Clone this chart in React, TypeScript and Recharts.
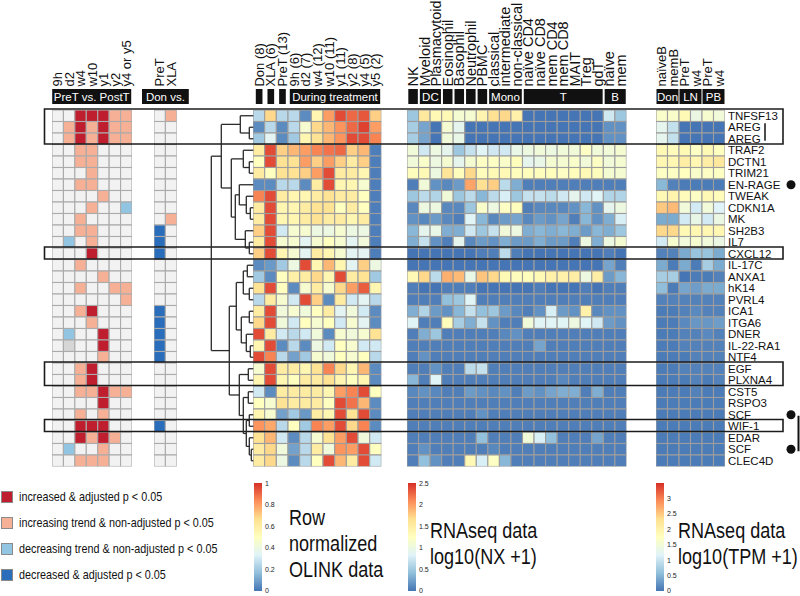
import React from "react";
import {
  ScatterChart,
  Scatter,
  XAxis,
  YAxis,
  ReferenceArea,
  ReferenceLine,
  ReferenceDot,
} from "recharts";

const GENES = [
  "TNFSF13", "AREG", "AREG", "TRAF2", "DCTN1", "TRIM21", "EN-RAGE", "TWEAK",
  "CDKN1A", "MK", "SH2B3", "IL7", "CXCL12", "IL-17C", "ANXA1", "hK14", "PVRL4",
  "ICA1", "ITGA6", "DNER", "IL-22-RA1", "NTF4", "EGF", "PLXNA4", "CST5", "RSPO3",
  "SCF", "WIF-1", "EDAR", "SCF", "CLEC4D",
];

// 0 none, 1 increased & adjusted, 2 increasing trend, 3 decreasing trend, 4 decreased & adjusted, 5 missing
const TREND_COLS = ["9h", "d2", "w4", "w10", "y1", "y2", "y4 or y5"];
const TREND = [
  [0, 0, 1, 1, 1, 2, 2], [0, 2, 1, 2, 1, 2, 2], [0, 2, 1, 2, 1, 2, 2],
  [0, 0, 2, 2, 0, 0, 0], [0, 0, 2, 2, 0, 0, 0], [0, 0, 0, 2, 0, 0, 0],
  [0, 0, 2, 2, 0, 0, 0], [0, 0, 0, 0, 2, 0, 0], [0, 0, 0, 2, 0, 0, 3],
  [0, 0, 2, 0, 0, 0, 0], [0, 0, 2, 2, 0, 0, 0], [0, 3, 0, 2, 0, 0, 0],
  [0, 0, 0, 1, 0, 0, 0], [0, 0, 2, 0, 0, 0, 0], [0, 0, 0, 0, 2, 0, 0],
  [0, 0, 2, 0, 0, 2, 2], [0, 0, 0, 0, 0, 0, 2], [0, 0, 2, 1, 0, 0, 0],
  [0, 0, 0, 2, 0, 0, 0], [0, 3, 0, 0, 1, 0, 0], [0, 5, 0, 0, 1, 0, 0],
  [0, 0, 0, 0, 2, 0, 0], [0, 0, 2, 1, 0, 0, 0], [0, 0, 2, 1, 0, 0, 0],
  [0, 0, 2, 2, 1, 2, 2], [0, 0, 0, 0, 1, 0, 0], [0, 0, 2, 0, 2, 0, 0],
  [0, 0, 1, 1, 1, 0, 0], [0, 0, 1, 2, 1, 2, 0], [0, 3, 0, 0, 2, 0, 0],
  [0, 0, 2, 2, 2, 0, 0],
];

const DON_COLS = ["PreT", "XLA"];
const DON = [
  [0, 2], [0, 0], [0, 0], [0, 0], [0, 0], [0, 0], [0, 0], [0, 0], [0, 0],
  [0, 2], [4, 0], [4, 0], [4, 0], [0, 0], [0, 0], [0, 0], [0, 0], [4, 0],
  [4, 0], [4, 0], [4, 0], [4, 0], [0, 0], [0, 0], [0, 0], [0, 0], [0, 0],
  [4, 0], [0, 0], [0, 0], [0, 0],
];

const OLINK_COLS = [
  "Don (8)", "XLA (6)", "PreT (13)", "9h (6)", "d2 (7)", "w4 (12)",
  "w10 (11)", "y1 (11)", "y2 (8)", "y4 (5)", "y5 (2)",
];
const OLINK = [
  [0.25, 0.68, 0.25, 0.25, 0.05, 0.55, 0.8, 0.95, 0.9, 0.93, 0.7],
  [0.05, 0.25, 0.05, 0.25, 0.45, 0.68, 0.75, 0.82, 0.9, 0.97, 0.8],
  [0.2, 0.35, 0.05, 0.2, 0.55, 0.65, 0.75, 0.82, 0.95, 0.95, 0.85],
  [0.6, 0.95, 0.7, 0.75, 0.8, 0.85, 0.88, 0.9, 0.7, 0.75, 0.02],
  [0.5, 0.95, 0.65, 0.65, 0.8, 0.7, 0.8, 0.7, 0.6, 0.7, 0.02],
  [0.6, 0.5, 0.65, 0.65, 0.7, 0.8, 0.95, 0.6, 0.6, 0.55, 0.02],
  [0.05, 0.05, 0.25, 0.25, 0.05, 0.6, 0.95, 0.55, 0.55, 0.45, 0.02],
  [0.85, 0.95, 0.6, 0.55, 0.55, 0.6, 0.65, 0.6, 0.6, 0.5, 0.02],
  [0.6, 0.95, 0.55, 0.55, 0.6, 0.65, 0.65, 0.5, 0.6, 0.5, 0.02],
  [0.6, 0.95, 0.55, 0.55, 0.6, 0.65, 0.6, 0.6, 0.55, 0.6, 0.02],
  [0.7, 0.95, 0.3, 0.45, 0.45, 0.4, 0.4, 0.45, 0.4, 0.4, 0.02],
  [0.6, 0.95, 0.45, 0.45, 0.35, 0.45, 0.5, 0.45, 0.35, 0.42, 0.02],
  [0.7, 0.95, 0.55, 0.45, 0.35, 0.6, 0.55, 0.45, 0.35, 0.35, 0.02],
  [0.05, 0.08, 0.2, 0.4, 0.95, 0.55, 0.75, 0.55, 0.35, 0.7, 0.4],
  [0.2, 0.05, 0.5, 0.58, 0.6, 0.68, 0.55, 0.95, 0.6, 0.65, 0.2],
  [0.65, 0.95, 0.5, 0.05, 0.45, 0.6, 0.45, 0.68, 0.8, 0.92, 0.55],
  [0.25, 0.6, 0.45, 0.3, 0.95, 0.7, 0.05, 0.6, 0.3, 0.35, 0.25],
  [0.6, 0.95, 0.42, 0.45, 0.42, 0.5, 0.6, 0.35, 0.42, 0.3, 0.05],
  [0.68, 0.95, 0.42, 0.3, 0.5, 0.45, 0.5, 0.3, 0.45, 0.35, 0.05],
  [0.95, 0.6, 0.3, 0.25, 0.3, 0.42, 0.05, 0.45, 0.42, 0.45, 0.65],
  [0.55, 0.95, 0.05, 0.25, 0.05, 0.4, 0.3, 0.5, 0.45, 0.3, 0.3],
  [0.95, 0.85, 0.25, 0.1, 0.2, 0.45, 0.42, 0.5, 0.45, 0.5, 0.25],
  [0.45, 0.95, 0.6, 0.6, 0.55, 0.65, 0.85, 0.68, 0.55, 0.75, 0.05],
  [0.55, 0.95, 0.55, 0.5, 0.6, 0.6, 0.65, 0.55, 0.5, 0.55, 0.05],
  [0.3, 0.05, 0.6, 0.6, 0.6, 0.6, 0.55, 0.8, 0.85, 0.95, 0.5],
  [0.5, 0.45, 0.65, 0.6, 0.6, 0.6, 0.5, 0.95, 0.88, 0.75, 0.05],
  [0.55, 0.45, 0.1, 0.2, 0.08, 0.6, 0.55, 0.95, 0.65, 0.95, 0.05],
  [0.82, 0.78, 0.25, 0.5, 0.2, 0.85, 0.8, 0.95, 0.68, 0.85, 0.05],
  [0.65, 0.75, 0.3, 0.05, 0.25, 0.45, 0.65, 0.8, 0.95, 0.42, 0.3],
  [0.6, 0.68, 0.42, 0.1, 0.25, 0.6, 0.42, 0.82, 0.8, 0.95, 0.5],
  [0.6, 0.68, 0.4, 0.05, 0.25, 0.5, 0.95, 0.75, 0.6, 0.95, 0.3],
];

const NX_COLS = [
  "NK", "Myeloid", "Plasmacytoid", "Eosinophil", "Basophil", "Neutrophil",
  "PBMC", "classical", "intermediate", "non-classical", "naïve CD4",
  "naïve CD8", "mem CD4", "mem CD8", "MAIT", "Treg", "gdT", "naïve", "mem",
];
const NX = [
  [0.6, 1.6, 1.4, 1.4, 1.2, 1.2, 1.45, 1.7, 1.75, 1.5, 0.15, 0.15, 0.15, 0.15, 0.15, 0.15, 0.15, 0.85, 0.6],
  [0.65, 0.4, 0.15, 1.2, 1.0, 0.15, 0.15, 0.15, 0.15, 0.15, 0.15, 0.15, 0.15, 0.15, 0.15, 0.15, 0.15, 0.3, 0.3],
  [0.65, 0.4, 0.15, 1.15, 1.05, 0.15, 0.15, 0.15, 0.15, 0.15, 0.15, 0.15, 0.15, 0.15, 0.15, 0.15, 0.15, 0.3, 0.3],
  [1.15, 0.85, 1.1, 1.0, 0.6, 0.8, 0.95, 0.85, 0.85, 1.05, 1.1, 1.15, 1.1, 1.15, 1.15, 1.3, 1.15, 1.15, 1.2],
  [1.15, 1.25, 1.1, 1.2, 1.0, 1.2, 1.3, 1.3, 1.25, 1.35, 1.0, 1.05, 1.2, 1.2, 1.25, 1.15, 1.3, 1.15, 1.2],
  [1.35, 1.4, 1.1, 1.65, 1.35, 1.75, 1.35, 1.4, 1.4, 1.35, 1.35, 1.35, 1.35, 1.3, 1.35, 1.4, 1.35, 1.2, 1.2],
  [0.2, 1.15, 0.3, 0.25, 0.35, 2.0, 1.7, 1.8, 0.75, 0.45, 0.2, 0.2, 0.2, 0.2, 0.2, 0.2, 0.2, 0.2, 0.2],
  [0.6, 0.75, 0.7, 1.15, 0.6, 0.75, 0.5, 0.75, 0.9, 0.6, 0.8, 0.8, 0.75, 0.85, 1.0, 0.85, 0.95, 0.7, 0.7],
  [0.25, 1.1, 1.1, 0.25, 0.25, 0.6, 1.25, 1.1, 1.3, 1.35, 0.2, 0.25, 0.25, 0.25, 0.3, 0.5, 0.3, 1.0, 1.1],
  [0.3, 0.25, 0.35, 0.25, 0.2, 0.95, 0.5, 0.25, 0.35, 0.4, 0.25, 0.35, 0.3, 0.4, 0.2, 0.5, 0.3, 0.45, 0.9],
  [0.5, 1.0, 1.05, 0.45, 0.45, 0.85, 0.6, 0.8, 1.15, 1.1, 0.45, 0.5, 0.45, 0.5, 0.45, 0.35, 0.5, 0.45, 0.6],
  [0.45, 0.8, 0.3, 0.2, 1.0, 0.25, 0.35, 0.3, 0.45, 0.35, 0.35, 0.45, 0.35, 0.35, 0.2, 1.1, 0.45, 1.1, 1.2],
  [0.15, 0.15, 0.15, 0.15, 0.15, 0.15, 0.2, 0.2, 0.75, 0.2, 0.15, 0.15, 0.15, 0.15, 0.15, 0.15, 0.15, 0.2, 0.15],
  [0.15, 0.15, 0.15, 0.15, 0.15, 0.15, 0.15, 0.15, 0.15, 0.15, 0.15, 0.15, 0.15, 0.15, 0.15, 0.15, 0.15, 0.4, 0.2],
  [1.4, 1.75, 0.75, 1.95, 1.9, 1.05, 1.85, 1.75, 1.4, 1.35, 1.35, 1.4, 1.5, 1.5, 1.55, 1.1, 1.55, 0.35, 0.5],
  [0.2, 0.15, 0.15, 0.2, 0.2, 0.2, 0.15, 0.15, 0.15, 0.15, 0.15, 0.2, 0.15, 0.15, 0.15, 0.2, 0.15, 0.2, 0.2],
  [0.2, 0.2, 0.2, 0.55, 0.6, 0.95, 0.2, 0.2, 0.2, 0.2, 0.2, 0.2, 0.2, 0.2, 0.2, 0.2, 0.2, 0.2, 0.2],
  [0.45, 0.7, 0.35, 0.3, 0.5, 0.8, 0.55, 0.6, 0.35, 0.25, 0.2, 0.3, 0.9, 0.35, 0.3, 1.5, 0.25, 0.3, 0.3],
  [0.95, 0.2, 0.2, 1.35, 0.65, 0.45, 0.8, 0.3, 0.2, 0.2, 1.15, 0.95, 0.95, 0.95, 1.1, 0.95, 0.85, 0.35, 0.3],
  [0.2, 0.45, 0.6, 0.2, 0.2, 0.2, 0.2, 0.2, 0.25, 0.3, 0.2, 0.2, 0.2, 0.2, 0.2, 0.2, 0.2, 0.2, 0.2],
  [0.2, 0.2, 0.2, 0.2, 0.2, 0.2, 0.2, 0.2, 0.2, 0.2, 0.2, 0.4, 0.2, 0.2, 0.2, 0.2, 0.2, 0.2, 0.2],
  [0.2, 0.3, 0.2, 0.2, 0.2, 0.2, 0.2, 0.2, 0.2, 0.2, 0.2, 0.2, 0.2, 0.2, 0.2, 0.2, 0.2, 0.2, 0.2],
  [0.2, 0.2, 0.3, 0.2, 0.2, 0.75, 0.8, 0.2, 0.2, 0.2, 0.2, 0.2, 0.2, 0.2, 0.2, 0.2, 0.2, 0.2, 0.2],
  [0.5, 0.2, 0.95, 0.2, 0.2, 0.2, 0.2, 0.2, 0.2, 0.2, 0.2, 0.2, 0.2, 0.25, 0.2, 0.2, 0.2, 0.2, 0.2],
  [0.25, 0.3, 0.25, 0.2, 0.2, 0.35, 0.3, 0.25, 0.3, 0.2, 0.35, 0.3, 0.4, 0.45, 0.45, 0.2, 0.45, 0.2, 0.2],
  [0.2, 0.2, 0.2, 0.2, 0.2, 0.2, 0.2, 0.2, 0.2, 0.2, 0.2, 0.2, 0.2, 0.2, 0.2, 0.2, 0.2, 0.2, 0.2],
  [0.2, 0.2, 0.2, 0.2, 0.2, 0.2, 0.3, 0.2, 0.2, 0.2, 0.2, 0.2, 0.2, 0.2, 0.2, 0.2, 0.2, 0.2, 0.2],
  [0.2, 0.2, 0.2, 0.2, 0.2, 0.2, 0.2, 0.2, 0.2, 0.2, 0.2, 0.2, 0.2, 0.2, 0.2, 0.2, 0.2, 0.2, 0.2],
  [0.2, 0.2, 0.2, 0.2, 0.2, 0.2, 0.55, 0.2, 0.2, 0.2, 1.15, 0.9, 0.55, 0.2, 0.2, 0.2, 0.4, 0.2, 0.2],
  [0.2, 0.3, 0.2, 0.2, 0.2, 0.2, 0.2, 0.25, 0.2, 0.2, 0.2, 0.2, 0.2, 0.2, 0.2, 0.2, 0.2, 0.2, 0.2],
  [0.2, 0.55, 0.3, 0.2, 0.2, 1.4, 0.9, 1.3, 0.5, 0.2, 0.2, 0.2, 0.2, 0.2, 0.2, 0.2, 0.2, 0.2, 0.2],
];

const TPM_COLS = ["naïveB", "memB", "PreT", "w4", "PreT", "w4"];
const TPM = [
  [1.75, 1.75, 1.95, 1.5, 1.7, 1.6], [1.4, 1.1, 0.2, 0.2, 0.2, 0.2],
  [1.4, 1.1, 0.2, 0.2, 0.2, 0.2], [1.95, 1.9, 1.95, 1.8, 1.95, 1.85],
  [2.0, 2.0, 2.15, 2.0, 2.15, 2.25], [1.8, 1.8, 1.85, 1.75, 1.8, 1.8],
  [0.7, 0.3, 0.25, 0.25, 0.25, 0.25], [1.95, 2.05, 1.9, 1.8, 1.95, 1.9],
  [2.55, 2.65, 1.6, 1.2, 1.6, 1.3], [0.6, 0.6, 1.2, 1.45, 1.2, 1.5],
  [2.45, 2.45, 1.95, 2.0, 2.0, 2.0], [1.2, 1.7, 1.6, 1.7, 1.6, 1.5],
  [0.3, 0.3, 0.6, 0.8, 0.8, 0.6], [0.6, 0.25, 0.6, 0.25, 0.9, 0.6],
  [0.9, 0.9, 0.2, 0.25, 0.25, 0.3], [0.75, 0.25, 0.55, 0.5, 0.6, 0.6],
  [0.3, 0.3, 0.3, 0.3, 0.3, 0.3], [0.25, 0.25, 0.3, 0.35, 0.3, 0.3],
  [0.25, 0.25, 0.35, 0.45, 0.45, 0.5], [0.25, 0.25, 0.3, 0.3, 0.35, 0.3],
  [0.25, 0.25, 0.3, 0.3, 0.3, 0.3], [0.25, 0.25, 0.25, 0.3, 0.3, 0.3],
  [0.25, 0.25, 0.3, 0.3, 0.3, 0.3], [0.25, 0.25, 0.25, 0.3, 0.25, 0.3],
  [0.25, 0.25, 0.25, 0.3, 0.25, 0.25], [0.25, 0.25, 0.25, 0.25, 0.25, 0.25],
  [0.25, 0.25, 0.25, 0.25, 0.25, 0.25], [0.25, 0.25, 0.25, 0.25, 0.25, 0.25],
  [0.25, 0.25, 0.25, 0.25, 0.25, 0.25], [0.25, 0.25, 0.25, 0.25, 0.25, 0.25],
  [0.25, 0.25, 0.25, 0.25, 0.25, 0.25],
];

// header bars: [first col, last col, label]
const TREND_GROUPS: [number, number, string][] = [[0, 6, "PreT vs. PostT"]];
const DON_GROUPS: [number, number, string][] = [[0, 1, "Don vs."]];
const OLINK_GROUPS: [number, number, string][] = [[0, 0, ""], [1, 1, ""], [2, 2, ""], [3, 10, "During treatment"]];
const NX_GROUPS: [number, number, string][] = [
  [0, 0, ""], [1, 2, "DC"], [3, 3, ""], [4, 4, ""], [5, 5, ""], [6, 6, ""],
  [7, 9, "Mono"], [10, 16, "T"], [17, 18, "B"],
];
const TPM_GROUPS: [number, number, string][] = [[0, 1, "Don"], [2, 3, "LN"], [4, 5, "PB"]];

// highlighted row groups [first, last]
const BOXES = [[0, 2], [12, 12], [22, 23], [27, 27]];
const DOT_ROWS = [6, 26, 29];

// dendrogram: [left, right, height]
type Node = number | [Node, Node, number];
const DENDRO: Node = [
  [
    [0, [1, 2, 4], 13],
    [[3, [4, 5, 4], 10], [[6, [7, [8, 9, 3], 7], 14], [10, [11, 12, 4], 8], 18], 22],
    32,
  ],
  [
    [[[13, 14, 6], [15, 16, 4], 10], [[17, 18, 4], [19, [20, 21, 3], 7], 12], 17],
    [[22, 23, 5], [[24, 25, 5], [[26, 27, 4], [28, [29, 30, 2], 4], 7], 10], 14],
    24,
  ],
  42,
];

const LEGEND = [
  [1, "increased & adjusted p < 0.05"],
  [2, "increasing trend & non-adjusted p < 0.05"],
  [3, "decreasing trend & non-adjusted p < 0.05"],
  [4, "decreased & adjusted p < 0.05"],
] as const;

const ROW_TOP = 110;
const ROW_H = 11.5;
const GRID_BOTTOM = ROW_TOP + ROW_H * GENES.length;
const LABEL_Y = 86.5;
const SIDE = 14;
const FONT = "'Liberation Sans', Arial, Helvetica, sans-serif";

const RAMP = ["#4575B4", "#91BFDB", "#E0F3F8", "#FFFFBF", "#FEE090", "#FC8D59", "#D73027"];
const TREND_FILL = ["#f2f2f2", "#be1e2d", "#f6b095", "#92c5e2", "#2a6ebb", "#d6d6d6"];

function hex(c: string) {
  return [1, 3, 5].map((i) => parseInt(c.slice(i, i + 2), 16));
}
function ramp(t: number) {
  const u = Math.max(0, Math.min(1, t)) * (RAMP.length - 1);
  const i = Math.min(RAMP.length - 2, Math.floor(u));
  const f = u - i;
  const a = hex(RAMP[i]);
  const b = hex(RAMP[i + 1]);
  const m = a.map((v, k) => Math.round(v + (b[k] - v) * f));
  return `rgb(${m[0]},${m[1]},${m[2]})`;
}

const rowY = (r: number) => ROW_TOP + (r + 0.5) * ROW_H;

const PANELS = [
  { key: "trend", left: 51.7, cw: 11.43, cols: TREND_COLS, data: TREND, fill: (v: number) => TREND_FILL[v], groups: TREND_GROUPS, pad: 0.5, single: 1, ext: 0, fs: 13 },
  { key: "don", left: 154, cw: 11.4, cols: DON_COLS, data: DON, fill: (v: number) => TREND_FILL[v], groups: DON_GROUPS, pad: 1, single: 1, ext: 13, fs: 13 },
  { key: "olink", left: 253.3, cw: 11.67, cols: OLINK_COLS, data: OLINK, fill: (v: number) => ramp(v), groups: OLINK_GROUPS, pad: 1.5, single: 2.5, ext: 0, fs: 13 },
  { key: "nx", left: 407.3, cw: 11.55, cols: NX_COLS, data: NX, fill: (v: number) => ramp((v - 0.15) / 2.35), groups: NX_GROUPS, pad: 1, single: 1, ext: 0, fs: 14.5 },
  { key: "tpm", left: 656, cw: 11.5, cols: TPM_COLS, data: TPM, fill: (v: number) => ramp((v - 0.2) / 3.3), groups: TPM_GROUPS, pad: 0.5, single: 1, ext: 0, fs: 13, rowLabels: true },
];

function HeatPanel({ p }: { p: any }) {
  const n = p.cols.length;
  const axisW = p.rowLabels ? 80 : 0;
  const points = p.data.flatMap((row: number[], r: number) =>
    row.map((v, c) => ({ x: c, y: r, v }))
  );
  const gridStroke = p.key === "trend" || p.key === "don" ? "#ababab" : "#9d9d9d";
  return (
    <div style={{ position: "absolute", left: p.left - SIDE, top: 0 }}>
      <ScatterChart
        width={n * p.cw + axisW + 2 * SIDE}
        height={GRID_BOTTOM + 2}
        margin={{ top: 0, right: SIDE, bottom: 2, left: SIDE }}
      >
        <XAxis
          type="number"
          dataKey="x"
          orientation="top"
          domain={[-0.5, n - 0.5]}
          ticks={p.cols.map((_: string, i: number) => i)}
          interval={0}
          height={ROW_TOP}
          axisLine={false}
          tickLine={false}
          allowDataOverflow
          tick={(t: any) => (
            <text
              key={t.index}
              transform={`translate(${t.x + p.fs * 0.36},${LABEL_Y}) rotate(-90)`}
              fontSize={p.fs}
              fontFamily={FONT}
              fill="#111"
              textAnchor="start"
            >
              {p.cols[t.payload.value]}
            </text>
          )}
        />
        <YAxis
          type="number"
          dataKey="y"
          domain={[-0.5, GENES.length - 0.5]}
          reversed
          hide={!p.rowLabels}
          orientation="right"
          width={axisW}
          ticks={GENES.map((_, i) => i)}
          interval={0}
          axisLine={false}
          tickLine={false}
          tickSize={0}
          tickMargin={3}
          allowDataOverflow
          tick={{ fontSize: 11.5, fill: "#111", fontFamily: FONT }}
          tickFormatter={(i: number) => GENES[i]}
        />
        <Scatter
          data={points}
          isAnimationActive={false}
          shape={(s: any) => (
            <rect
              x={s.cx - p.cw / 2}
              y={s.cy - ROW_H / 2}
              width={p.cw}
              height={ROW_H}
              fill={p.fill(s.payload.v)}
              stroke={gridStroke}
              strokeWidth={1.1}
            />
          )}
        />
      </ScatterChart>
    </div>
  );
}

function dendroSegments(node: Node, x0: number, out: number[][]): { x: number; y: number } {
  if (typeof node === "number") return { x: x0, y: rowY(node) };
  const a = dendroSegments(node[0], x0, out);
  const b = dendroSegments(node[1], x0, out);
  const x = x0 - node[2];
  out.push([x, a.y, a.x, a.y], [x, b.y, b.x, b.y], [x, a.y, x, b.y]);
  return { x, y: (a.y + b.y) / 2 };
}

function Overlay() {
  const segs: number[][] = [];
  dendroSegments(DENDRO, 253.3, segs);
  const bars: { x1: number; x2: number; label: string }[] = [];
  PANELS.forEach((p) => {
    p.groups.forEach(([a, b, label]) => {
      const inset = a === b && !label ? p.single : p.pad;
      bars.push({
        x1: p.left + a * p.cw + inset - p.ext,
        x2: p.left + (b + 1) * p.cw - inset + p.ext,
        label,
      });
    });
  });
  const scf = [rowY(DOT_ROWS[1]), rowY(DOT_ROWS[2])];
  return (
    <div style={{ position: "absolute", left: 0, top: 0, pointerEvents: "none" }}>
      <ScatterChart width={800} height={596} margin={{ top: 0, right: 0, bottom: 0, left: 0 }}>
        <XAxis type="number" dataKey="x" domain={[0, 800]} hide allowDataOverflow />
        <YAxis type="number" dataKey="y" domain={[0, 596]} reversed hide allowDataOverflow />
        <Scatter data={[]} isAnimationActive={false} />
        {bars.map((b, i) => (
          <ReferenceArea
            key={"bar" + i}
            x1={b.x1}
            x2={b.x2}
            y1={89}
            y2={104}
            fill="#111"
            fillOpacity={1}
            stroke="none"
            label={b.label ? { value: b.label, position: "center", fill: "#fff", fontSize: 11.5, fontFamily: FONT } : undefined}
          />
        ))}
        {segs.map((s, i) => (
          <ReferenceLine
            key={"d" + i}
            segment={[{ x: s[0], y: s[1] }, { x: s[2], y: s[3] }]}
            stroke="#2a2a2a"
            strokeWidth={1.3}
          />
        ))}
        {BOXES.map(([a, b], i) => (
          <ReferenceArea
            key={"box" + i}
            x1={44.5}
            x2={783}
            y1={ROW_TOP + a * ROW_H - 1}
            y2={ROW_TOP + (b + 1) * ROW_H - 0.5}
            fill="none"
            stroke="#1c1c1c"
            strokeWidth={1.6}
          />
        ))}
        {DOT_ROWS.map((r) => (
          <ReferenceDot key={"dot" + r} x={791} y={rowY(r)} r={4.5} fill="#111" stroke="none" />
        ))}
        <ReferenceLine segment={[{ x: 798.5, y: scf[0] + 1 }, { x: 798.5, y: scf[1] + 2 }]} stroke="#111" strokeWidth={2} />
        <ReferenceLine segment={[{ x: 765, y: rowY(1) - 4 }, { x: 765, y: rowY(2) + 2 }]} stroke="#111" strokeWidth={1.5} />
      </ScatterChart>
    </div>
  );
}

function ColorBar({ left, max, ticks, id }: { left: number; max: number; ticks: number[]; id: string }) {
  return (
    <div style={{ position: "absolute", left, top: 480 }}>
      <ScatterChart width={36} height={114} margin={{ top: 3, right: 0, bottom: 3, left: 0 }}>
        <defs>
          <linearGradient id={id} x1="0" y1="1" x2="0" y2="0">
            {RAMP.map((c, i) => (
              <stop key={i} offset={i / (RAMP.length - 1)} stopColor={c} />
            ))}
          </linearGradient>
        </defs>
        <XAxis type="number" dataKey="x" domain={[0, 1]} hide allowDataOverflow />
        <YAxis
          type="number"
          dataKey="y"
          domain={[0, max]}
          orientation="right"
          width={28}
          ticks={ticks}
          interval={0}
          axisLine={false}
          tickLine={false}
          tickSize={0}
          tickMargin={3}
          allowDataOverflow
          tick={{ fontSize: 7, fill: "#222", fontFamily: FONT }}
        />
        <Scatter data={[]} isAnimationActive={false} />
        <ReferenceArea x1={0} x2={1} y1={0} y2={max} fill={`url(#${id})`} fillOpacity={1} stroke="none" />
      </ScatterChart>
    </div>
  );
}

const bigText: React.CSSProperties = {
  position: "absolute",
  fontFamily: FONT,
  fontSize: 22,
  lineHeight: "22px",
  color: "#111",
  whiteSpace: "nowrap",
  transform: "scaleX(0.82)",
  transformOrigin: "0 0",
};

export default function App() {
  return (
    <div
      style={{
        position: "absolute",
        left: 0,
        top: 0,
        width: 800,
        height: 596,
        background: "#fff",
        overflow: "hidden",
        fontFamily: FONT,
      }}
    >
      {PANELS.map((p) => (
        <HeatPanel key={p.key} p={p} />
      ))}
      <Overlay />
      <ColorBar left={254} max={1} ticks={[0, 0.2, 0.4, 0.6, 0.8, 1]} id="g1" />
      <ColorBar left={408} max={2.5} ticks={[0, 0.5, 1, 1.5, 2, 2.5]} id="g2" />
      <ColorBar left={656} max={3.5} ticks={[0, 0.5, 1, 1.5, 2, 2.5, 3]} id="g3" />
      {LEGEND.map(([code, text], i) => (
        <div key={code} style={{ position: "absolute", left: 1, top: 489 + i * 26, display: "flex", alignItems: "center" }}>
          <span
            style={{
              width: 10,
              height: 10,
              background: TREND_FILL[code],
              border: "1px solid #8a8a8a",
              display: "inline-block",
            }}
          />
          <span
            style={{
              marginLeft: 6,
              fontFamily: FONT,
              fontSize: 13.5,
              color: "#111",
              whiteSpace: "nowrap",
              display: "inline-block",
              transform: "scaleX(0.8)",
              transformOrigin: "0 50%",
            }}
          >
            {text}
          </span>
        </div>
      ))}
      <div style={{ ...bigText, left: 289, top: 507 }}>Row</div>
      <div style={{ ...bigText, left: 289, top: 533 }}>normalized</div>
      <div style={{ ...bigText, left: 289, top: 559 }}>OLINK data</div>
      <div style={{ ...bigText, left: 430, top: 520 }}>RNAseq data</div>
      <div style={{ ...bigText, left: 430, top: 546 }}>log10(NX +1)</div>
      <div style={{ ...bigText, left: 678, top: 520 }}>RNAseq data</div>
      <div style={{ ...bigText, left: 678, top: 546 }}>log10(TPM +1)</div>
    </div>
  );
}
